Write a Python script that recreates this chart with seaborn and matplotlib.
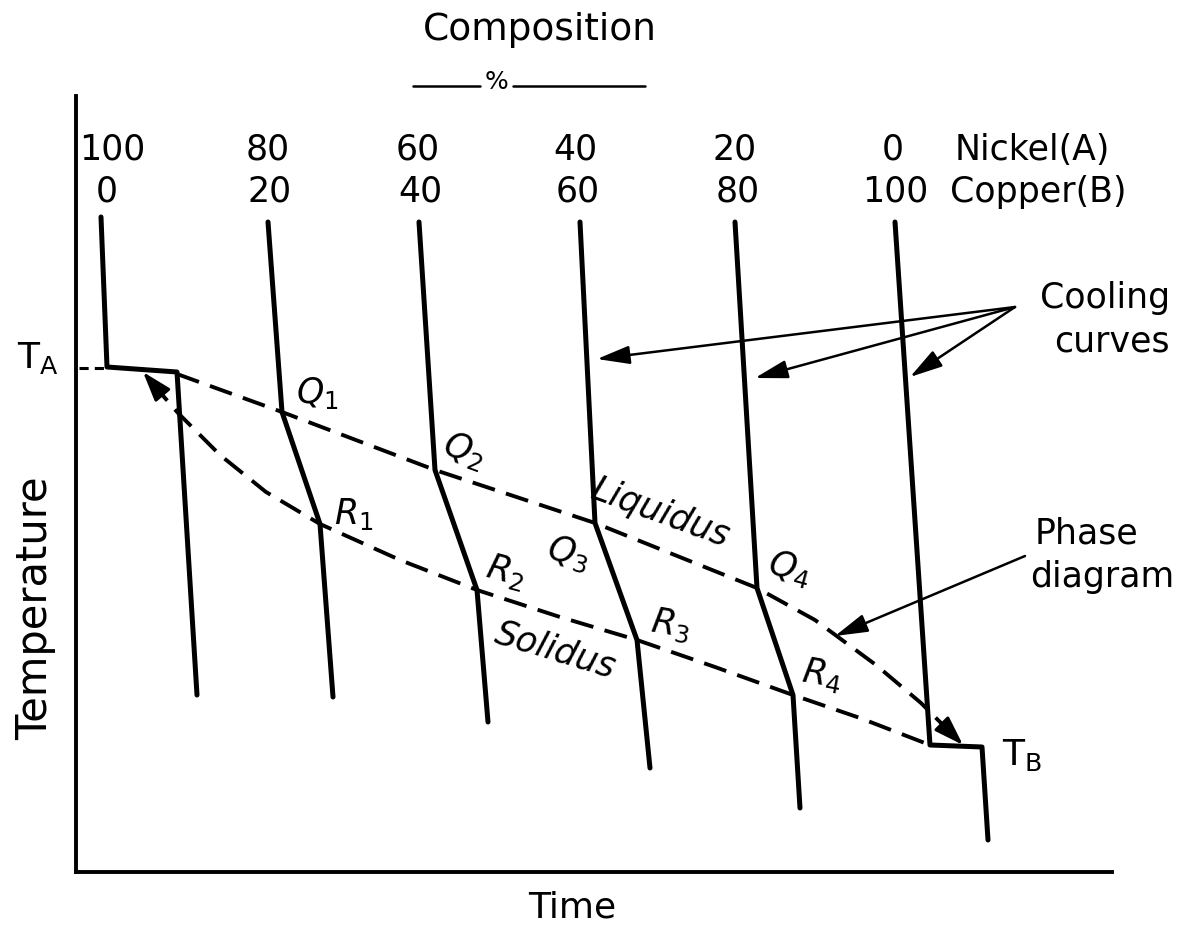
import matplotlib
matplotlib.use('Agg')
import matplotlib.pyplot as plt
import pandas as pd
import seaborn as sns

# cooling curves: time (x) and temperature (y, read downward)
CURVE_NAMES = ['100/0', '80/20', '60/40', '40/60', '20/80', '0/100']
CURVE_TIME = [
    [101, 107, 177, 197],
    [268, 282, 320, 333],
    [419, 435, 477, 488],
    [580, 595, 637, 650],
    [735, 757, 793, 800],
    [895, 930, 982, 988],
]
CURVE_TEMP = [
    [217, 367, 372, 695],
    [222, 412, 524, 697],
    [222, 470, 590, 722],
    [222, 523, 640, 768],
    [222, 588, 695, 808],
    [222, 745, 747, 840],
]

LIQUIDUS_TIME = [177, 282, 435, 595, 757, 815, 876, 921, 945]
LIQUIDUS_TEMP = [374, 412, 470, 523, 588, 620, 665, 703, 727]
SOLIDUS_TIME = [152, 178, 220, 266, 320, 400, 477, 560, 637, 715, 793, 860, 930]
SOLIDUS_TEMP = [383, 413, 455, 492, 524, 560, 590, 617, 640, 667, 695, 718, 745]

NICKEL = ['100', '80', '60', '40', '20', '0']
COPPER = ['0', '20', '40', '60', '80', '100']
NICKEL_X = [112, 268, 418, 575, 735, 893]
COPPER_X = [107, 270, 420, 578, 738, 895]

# point labels: text, x, y, rotation
POINT_LABELS = [
    ('$Q_1$', 317, 393, 0),
    ('$Q_2$', 464, 450, -20),
    ('$Q_3$', 568, 553, -15),
    ('$Q_4$', 790, 568, -15),
    ('$R_1$', 354, 514, 0),
    ('$R_2$', 506, 572, -15),
    ('$R_3$', 671, 625, -10),
    ('$R_4$', 822, 675, -10),
]

rows = []
for name, ts, temps in zip(CURVE_NAMES, CURVE_TIME, CURVE_TEMP):
    for t, temp in zip(ts, temps):
        rows.append({'curve': name, 'time': t, 'temp': temp})
df = pd.DataFrame(rows)

sns.set_theme(style='white')
plt.rcParams['font.family'] = ['DejaVu Sans']
plt.rcParams['text.color'] = 'black'

fig = plt.figure(figsize=(11.84, 9.25), dpi=100)
ax = fig.add_axes([76 / 1184, (925 - 872) / 925, (1112 - 76) / 1184, (872 - 96) / 925])

sns.lineplot(data=df, x='time', y='temp', units='curve', estimator=None,
             sort=False, color='black', lw=3.6, ax=ax, legend=False)

dash = (0, (6, 3))
ax.plot(LIQUIDUS_TIME, LIQUIDUS_TEMP, color='black', lw=2.8, ls=dash)
ax.plot(SOLIDUS_TIME, SOLIDUS_TEMP, color='black', lw=2.8, ls=dash)
ax.plot([79, 106], [368, 368], color='black', lw=2.2, ls=(0, (3, 2)))

head = dict(arrowstyle='-|>,head_length=0.9,head_width=0.3', color='black',
            lw=2.2, mutation_scale=20, shrinkA=0, shrinkB=0)
ax.annotate('', xy=(143, 372), xytext=(160, 392), arrowprops=head)
ax.annotate('', xy=(963, 745), xytext=(943, 725), arrowprops=head)

arrow = dict(arrowstyle='-|>,head_length=1.0,head_width=0.28', color='black',
             lw=1.8, mutation_scale=20, shrinkA=0, shrinkB=0)
for tip in [(597, 359), (755, 378), (910, 377)]:
    ax.annotate('', xy=tip, xytext=(1015, 307), arrowprops=arrow,
                annotation_clip=False)
ax.annotate('', xy=(835, 636), xytext=(1025, 556), arrowprops=arrow,
            annotation_clip=False)

ax.set_xlim(76, 1112)
ax.set_ylim(872, 96)
ax.set_xticks([])
ax.set_yticks([])
ax.set_xlabel('')
ax.set_ylabel('')
sns.despine(ax=ax)
for side in ['left', 'bottom']:
    ax.spines[side].set_linewidth(2.8)
    ax.spines[side].set_color('black')

fs = 25
for lab, x in zip(NICKEL, NICKEL_X):
    ax.text(x, 150, lab, ha='center', va='center', fontsize=fs)
for lab, x in zip(COPPER, COPPER_X):
    ax.text(x, 192, lab, ha='center', va='center', fontsize=fs)
ax.text(955, 150, 'Nickel(A)', ha='left', va='center', fontsize=fs)
ax.text(950, 192, 'Copper(B)', ha='left', va='center', fontsize=fs)

ax.text(540, 30, 'Composition', ha='center', va='center', fontsize=27)
ax.plot([413, 480], [86, 86], color='black', lw=1.8, clip_on=False)
ax.plot([513, 645], [86, 86], color='black', lw=1.8, clip_on=False)
ax.text(497, 82, '%', ha='center', va='center', fontsize=18)

ax.text(1170, 298, 'Cooling', ha='right', va='center', fontsize=fs)
ax.text(1170, 341, 'curves', ha='right', va='center', fontsize=fs)
ax.text(1086, 533, 'Phase', ha='center', va='center', fontsize=fs)
ax.text(1102, 577, 'diagram', ha='center', va='center', fontsize=fs)

ax.text(38, 358, r'$\mathregular{T_A}$', ha='center', va='center', fontsize=26)
ax.text(1022, 755, r'$\mathregular{T_B}$', ha='center', va='center', fontsize=26)

for lab, x, y, rot in POINT_LABELS:
    ax.text(x, y, lab, ha='center', va='center', fontsize=25, rotation=rot)
ax.text(660, 513, 'Liquidus', ha='center', va='center', fontsize=fs,
        rotation=-20, style='italic')
ax.text(555, 650, 'Solidus', ha='center', va='center', fontsize=fs,
        rotation=-17, style='italic')

ax.text(35, 608, 'Temperature', ha='center', va='center', fontsize=30,
        rotation=90)
ax.text(572, 908, 'Time', ha='center', va='center', fontsize=26)

fig.savefig('out.png', dpi=100)
